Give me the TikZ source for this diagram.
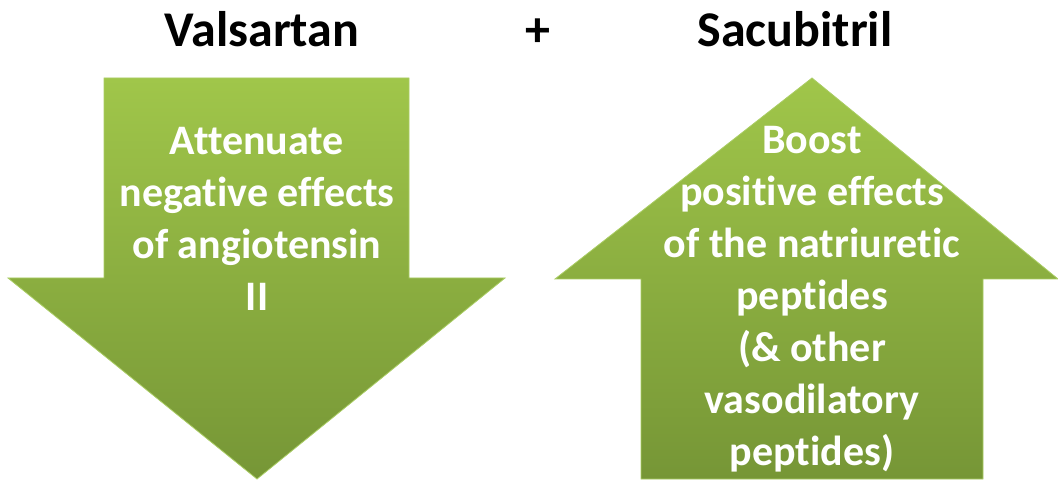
\documentclass[tikz,border=0pt]{standalone}
\usepackage{fontspec}
\setmainfont[Ligatures={NoCommon,NoRequired,TeX}]{Carlito}
\definecolor{gtop}{RGB}{160,198,74}
\definecolor{gbot}{RGB}{118,150,54}
\definecolor{gedge}{RGB}{170,205,100}
\tikzset{
  arrowshape/.style={top color=gtop, bottom color=gbot, draw=gedge, line width=0.8pt, line join=miter},
  title/.style={font=\fontsize{50}{60}\selectfont\bfseries, text=black, inner sep=0pt, anchor=base},
  inner/.style={font=\fontsize{42}{52}\selectfont\bfseries, text=white, align=center, inner sep=0pt, anchor=base}
}
\begin{document}
\begin{tikzpicture}[x=1pt,y=-1pt]
\useasboundingbox (0,0) rectangle (1058,481);
% down arrow
\shade[arrowshape] (104,78) -- (409,78) -- (409,278) -- (505,278) -- (257,479) -- (8,278) -- (104,278) -- cycle;
% up arrow
\shade[arrowshape] (812,78) -- (1058,279) -- (983,279) -- (983,479) -- (641,479) -- (641,279) -- (555,279) -- cycle;
\node[title] (val) at (262,47) {Valsartan};
\node[title] (plus) at (538,47) {+};
\node[title] (sac) at (795,47) {Sacubitril};
\node[inner] (att) at (257,310) {Attenuate\\negative effects\\of angiotensin\\II};
\node[inner] (boost) at (812,465) {Boost\\positive effects\\of the natriuretic\\peptides\\(\& other\\vasodilatory\\peptides)};
\end{tikzpicture}
\end{document}
